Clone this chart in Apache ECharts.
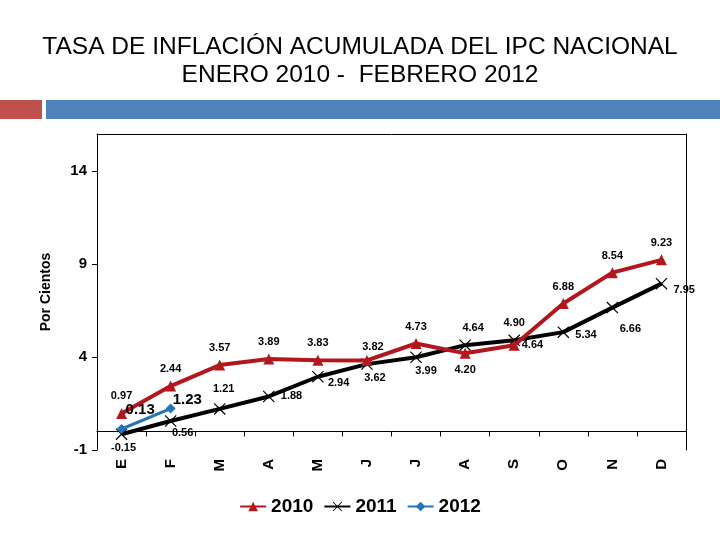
<!DOCTYPE html>
<html><head><meta charset="utf-8">
<script src="https://cdn.jsdelivr.net/npm/echarts@6/dist/echarts.min.js"></script>
<style>html,body{margin:0;padding:0;background:#fff}#c{width:720px;height:540px}</style>
</head><body><div id="c"></div>
<script>
var months = ['E','F','M','A','M','J','J','A','S','O','N','D'];
var s2010 = [0.97, 2.44, 3.57, 3.89, 3.83, 3.82, 4.73, 4.20, 4.64, 6.88, 8.54, 9.23];
var s2011 = [-0.15, 0.56, 1.21, 1.88, 2.94, 3.62, 3.99, 4.64, 4.90, 5.34, 6.66, 7.95];
var s2012 = [0.13, 1.23];
var yTicks = [-1, 4, 9, 14];

var pos2010 = ['top','top','top','top','top','top','top','bottom','right','top','top','top'];
var pos2011 = ['bottom','bottom','top','right','right','bottom','bottom','top','top','right','bottom','right'];
var off2011 = [[2,-4],[12,-6],[4,-2],[0,0],[-2,6],[8,-4],[10,-4],[8,0],[0,0],[0,3],[18,4],[0,6]];
var off2010 = [[0,0],[0,0],[0,0],[0,0],[0,0],[6,4],[0,0],[0,0],[-4,0],[0,0],[0,0],[0,0]];
var off2012 = [[-4,-19],[-6,-9]];

function items(vals, pos, off){
  return vals.map(function(v,i){
    return {value: v, label: {position: pos[i], offset: off[i]}};
  });
}
var labBase = {show:true, fontFamily:'Liberation Sans', fontWeight:'bold', fontSize:11, color:'#000', distance:6,
  formatter: function(p){return p.value.toFixed(2);}};
var xPath = 'path://M0,0.7 L0.7,0 L10,9.3 L9.3,10 Z M9.3,0 L10,0.7 L0.7,10 L0,9.3 Z';

var chart = echarts.init(document.getElementById('c'), null, {renderer:'canvas'});
chart.setOption({
  animation:false,
  title:{text:'TASA DE INFLACIÓN ACUMULADA DEL IPC NACIONAL\nENERO 2010 -  FEBRERO 2012', left:'center', top:28,
    textStyle:{fontFamily:'Liberation Sans', fontWeight:'normal', fontSize:24.5, color:'#000', lineHeight:28}},
  graphic:[
    {type:'rect', shape:{x:0,y:100,width:42,height:19}, style:{fill:'#C0504D'}},
    {type:'rect', shape:{x:46,y:100,width:674,height:19}, style:{fill:'#4F81BD'}}
  ],
  legend:{bottom:19, left:'center', itemWidth:26, itemHeight:12, itemGap:10,
    textStyle:{fontFamily:'Liberation Sans', fontWeight:'bold', fontSize:19, color:'#000'},
    data:['2010','2011','2012']},
  grid:{left:97, right:34, top:134, bottom:90},
  xAxis:[
    {type:'category', data:months, boundaryGap:true,
     axisLine:{show:true, onZero:true, lineStyle:{color:'#000', width:1}},
     axisTick:{show:true, inside:false, length:5, lineStyle:{color:'#000'}},
     axisLabel:{show:false}, splitLine:{show:false}},
    {type:'category', data:months, position:'bottom', boundaryGap:true,
     axisLine:{show:false, onZero:false}, axisTick:{show:false},
     axisLabel:{show:true, rotate:90, margin:9, fontFamily:'Liberation Sans', fontWeight:'bold', fontSize:15, color:'#000'}},
    {type:'category', data:months, position:'top',
     axisLine:{show:true, onZero:false, lineStyle:{color:'#000', width:1}}, axisTick:{show:false}, axisLabel:{show:false}}
  ],
  yAxis:[
    {type:'value', min:-1, max:16, name:'Por Cientos', nameLocation:'middle', nameGap:44, nameRotate:90,
     nameTextStyle:{fontFamily:'Liberation Sans', fontWeight:'bold', fontSize:14, color:'#000'},
     axisLine:{show:true, lineStyle:{color:'#000'}},
     axisTick:{show:true, length:5, customValues:yTicks, lineStyle:{color:'#000'}},
     axisLabel:{customValues:yTicks, margin:10, fontFamily:'Liberation Sans', fontWeight:'bold', fontSize:15, color:'#000'},
     splitLine:{show:false}},
    {type:'value', min:-1, max:16, position:'right',
     axisLine:{show:true, lineStyle:{color:'#000'}}, axisTick:{show:false}, axisLabel:{show:false}, splitLine:{show:false}}
  ],
  series:[
    {name:'2010', type:'line', data:items(s2010,pos2010,off2010), symbol:'triangle', symbolSize:11,
     lineStyle:{color:'#B2171D', width:4}, itemStyle:{color:'#B2171D'}, label:labBase, z:3},
    {name:'2011', type:'line', data:items(s2011,pos2011,off2011), symbol:xPath, symbolSize:12,
     lineStyle:{color:'#000', width:4}, itemStyle:{color:'#000'}, label:labBase, z:2},
    {name:'2012', type:'line', data:s2012.map(function(v,i){return {value:v, label:{offset:off2012[i]}};}),
     symbol:'diamond', symbolSize:10,
     lineStyle:{color:'#2474BB', width:3}, itemStyle:{color:'#2474BB'},
     label:{show:true, position:'right', distance:3, fontFamily:'Liberation Sans', fontWeight:'bold', fontSize:15, color:'#000',
       formatter:function(p){return p.value.toFixed(2);}}, z:4}
  ]
});
</script></body></html>
